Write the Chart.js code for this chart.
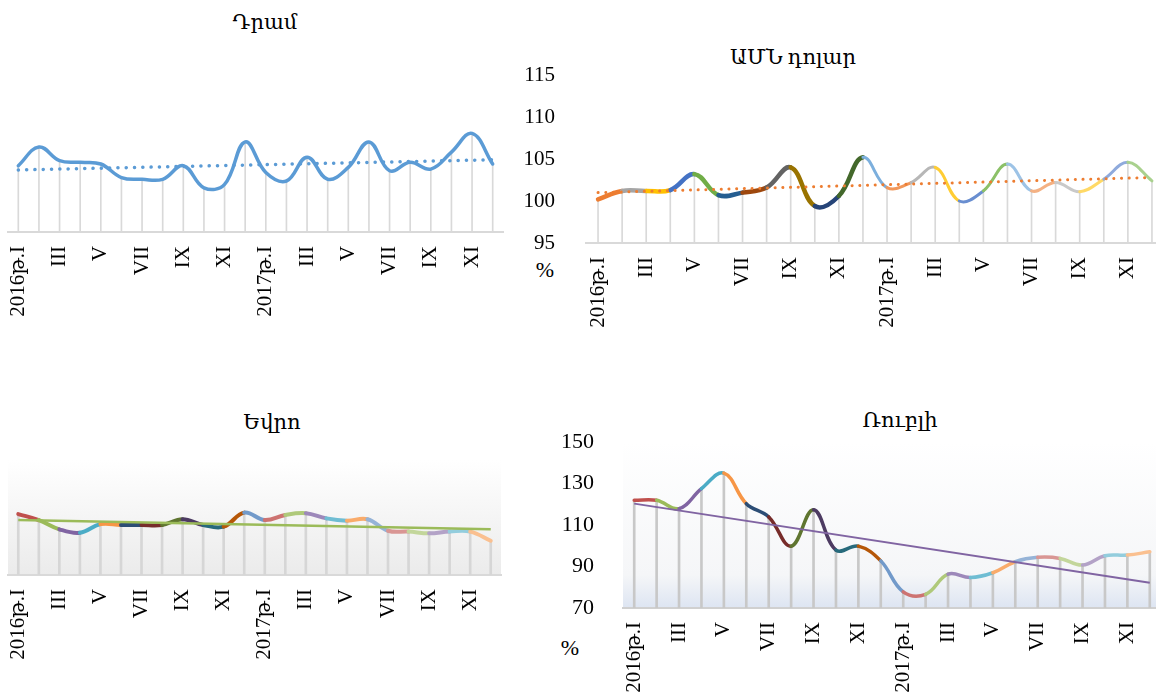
<!DOCTYPE html>
<html>
<head>
<meta charset="utf-8">
<script src="https://cdn.jsdelivr.net/npm/chart.js@4.4.1/dist/chart.umd.min.js"></script>
<style>
    html, body { margin: 0; padding: 0; width: 1156px; height: 700px; overflow: hidden; background: #fff; }
    canvas { position: absolute; }
    .txt { position: absolute; font-family: "Liberation Serif", "DejaVu Serif", serif; font-size: 21px; color: #000;
           transform: translate(-50%, -50%); white-space: nowrap; }
</style>
</head>
<body>
<div class="txt" style="left:265px;top:22px">Դրամ</div>
<div class="txt" style="left:793px;top:57px">ԱՄՆ դոլար</div>
<div class="txt" style="left:272px;top:422px">Եվրո</div>
<div class="txt" style="left:900px;top:420px">Ռուբլի</div>
<div class="txt" style="left:545px;top:270px;font-size:22px">%</div>
<div class="txt" style="left:570px;top:648px;font-size:22px">%</div>

<canvas id="dramChart" width="510" height="292" style="left:0;top:40px"></canvas>
<canvas id="usdChart" width="664" height="288" style="left:500px;top:55px"></canvas>
<canvas id="eurChart" width="510" height="235" style="left:0;top:440px"></canvas>
<canvas id="rubChart" width="621" height="278" style="left:540px;top:420px"></canvas>

<script>
    var months = ['2016թ.I', 'II', 'III', 'IV', 'V', 'VI', 'VII', 'VIII', 'IX', 'X', 'XI', 'XII',
                  '2017թ.I', 'II', 'III', 'IV', 'V', 'VI', 'VII', 'VIII', 'IX', 'X', 'XI', 'XII'];

    // Դրամ (no y labels on the original, values on an index scale)
    var dramValues = [98.9, 100.0, 99.2, 99.1, 99.0, 98.2, 98.1, 98.1, 98.9, 97.6, 97.8, 100.3,
                      98.5, 98.0, 99.4, 98.1, 98.8, 100.3, 98.6, 99.1, 98.7, 99.7, 100.8, 99.0];
    var dramTrend = [98.65, 99.25];

    // ԱՄՆ դոլար
    var usdValues = [100.2, 101.2, 101.2, 101.3, 103.2, 100.7, 101.0, 101.6, 104.0, 99.4, 100.6, 105.2,
                     101.6, 102.2, 104.0, 100.0, 101.2, 104.4, 101.2, 102.2, 101.1, 102.6, 104.6, 102.4];
    var usdTrend = [101.0, 102.8];
    var usdTicks = [95, 100, 105, 110, 115];

    // Եվրո (no y labels on the original)
    var eurValues = [101.2, 99.1, 95.9, 94.7, 97.7, 97.4, 97.4, 97.4, 99.4, 97.4, 96.8, 101.7,
                     99.1, 100.9, 101.5, 99.7, 98.9, 99.4, 95.4, 95.1, 94.5, 95.1, 95.1, 91.9];
    var eurTrend = [99.1, 95.9];

    // Ռուբլի
    var rubValues = [121.9, 121.9, 117.9, 127.5, 135.0, 120.3, 113.9, 99.8, 117.4, 97.9, 99.8, 92.7,
                     77.8, 76.6, 86.3, 84.7, 87.0, 92.3, 94.4, 93.9, 90.7, 95.2, 95.5, 97.1];
    var rubTrend = [120.3, 82.2];
    var rubTicks = [70, 90, 110, 130, 150];

    var usdColors = ['#ed7d31', '#a5a5a5', '#ffc000', '#4472c4', '#70ad47', '#255e91', '#9e480e', '#636363',
                     '#997300', '#264478', '#43682b', '#7cafdd', '#f1975a', '#b7b7b7', '#ffcd33', '#698ed0',
                     '#8cc168', '#9dc3e6', '#f4b183', '#c9c9c9', '#ffd966', '#8faadc', '#a9d18e'];
    var officeColors = ['#c0504d', '#9bbb59', '#8064a2', '#4bacc6', '#f79646', '#2c4d75', '#772c2a', '#5f7530',
                        '#4d3b62', '#276a7c', '#b65708', '#729aca', '#cd7371', '#afc97a', '#9d88ba', '#6fbdd3',
                        '#f9ab6b', '#95b3d7', '#d99694', '#c3d69b', '#b3a2c7', '#93cddd', '#fac090'];

    var serif = '"Liberation Serif", "DejaVu Serif", serif';

    var plotBackground = {
        id: 'plotBackground',
        beforeDraw: function (chart, args, opts) {
            if (!opts.stops) return;
            var a = chart.chartArea;
            var ctx = chart.ctx;
            var g = ctx.createLinearGradient(0, a.top, 0, a.bottom);
            opts.stops.forEach(function (s) { g.addColorStop(s[0], s[1]); });
            ctx.save();
            ctx.fillStyle = g;
            ctx.fillRect(a.left, a.top, a.right - a.left, a.bottom - a.top);
            ctx.restore();
        }
    };

    function makeChart(id, cfg) {
        var n = months.length;
        var trendData = months.map(function (m, i) {
            return i === 0 ? cfg.trend[0] : (i === n - 1 ? cfg.trend[1] : null);
        });
        var yScale = {
            min: cfg.min,
            max: cfg.max,
            display: !!cfg.ticks,
            grid: { display: false },
            border: { display: false },
            afterFit: function (scale) {
                scale.width = cfg.yWidth || 0;
                scale.paddingTop = 0;
                scale.paddingBottom = 0;
            }
        };
        if (cfg.ticks) {
            yScale.afterBuildTicks = function (scale) {
                scale.ticks = cfg.ticks.map(function (v) { return { value: v }; });
            };
            yScale.ticks = { padding: cfg.yPad, color: '#000', font: { family: serif, size: cfg.yFont } };
        }
        return new Chart(document.getElementById(id).getContext('2d'), {
            type: 'line',
            data: {
                labels: months,
                datasets: [{
                    data: trendData,
                    borderColor: cfg.trendColor,
                    borderWidth: cfg.trendWidth,
                    borderDash: cfg.trendDash || [],
                    borderCapStyle: cfg.trendDash ? 'round' : 'butt',
                    spanGaps: true,
                    tension: 0,
                    pointRadius: 0,
                    order: 0
                }, {
                    data: cfg.values,
                    borderColor: cfg.colors[0],
                    borderWidth: cfg.lineWidth,
                    borderCapStyle: 'round',
                    tension: 0.4,
                    pointRadius: 0,
                    order: 1,
                    segment: {
                        borderColor: function (ctx) { return cfg.colors[ctx.p0DataIndex % cfg.colors.length]; },
                        borderWidth: function (ctx) { return cfg.segWidth ? cfg.segWidth(ctx.p0DataIndex) : cfg.lineWidth; }
                    }
                }, {
                    type: 'bar',
                    data: cfg.values,
                    backgroundColor: cfg.dropColor,
                    barThickness: cfg.dropWidth,
                    order: 2
                }]
            },
            plugins: [plotBackground],
            options: {
                responsive: false,
                animation: false,
                layout: { padding: cfg.padding },
                plugins: {
                    legend: { display: false },
                    tooltip: { enabled: false },
                    plotBackground: { stops: cfg.bg }
                },
                scales: {
                    x: {
                        offset: true,
                        grid: { display: true, drawOnChartArea: false, drawTicks: false, color: 'rgba(0,0,0,0)' },
                        border: { display: true, color: cfg.axisColor, width: 2 },
                        afterFit: function (scale) {
                            scale.height = cfg.xHeight;
                            scale.paddingLeft = 0;
                            scale.paddingRight = 0;
                        },
                        ticks: {
                            autoSkip: false,
                            minRotation: 90,
                            maxRotation: 90,
                            padding: 14,
                            color: '#000',
                            font: { family: serif, size: 21 },
                            callback: function (v, i) { return i % 2 === 0 ? months[i] : ''; }
                        }
                    },
                    y: yScale
                }
            }
        });
    }

    makeChart('dramChart', {
        values: dramValues, trend: dramTrend, min: 95, max: 105,
        colors: ['#5b9bd5'], lineWidth: 3.5,
        trendColor: '#5b9bd5', trendWidth: 3.5, trendDash: [0.1, 8.2],
        dropColor: '#d9d9d9', dropWidth: 1, axisColor: '#d9d9d9',
        padding: { left: 8, right: 7, top: 22, bottom: 0 }, xHeight: 100
    });

    makeChart('usdChart', {
        values: usdValues, trend: usdTrend, min: 95, max: 115, ticks: usdTicks,
        yWidth: 86, yPad: 23, yFont: 21,
        colors: usdColors, lineWidth: 3.5,
        segWidth: function (i) { return i < 11 ? 4.5 : 3; },
        trendColor: '#ed7d31', trendWidth: 3, trendDash: [0.1, 7.6],
        dropColor: '#d9d9d9', dropWidth: 1, axisColor: '#d9d9d9',
        padding: { left: 0, right: 0, top: 20, bottom: 0 }, xHeight: 100
    });

    makeChart('eurChart', {
        values: eurValues, trend: eurTrend, min: 80, max: 120,
        colors: officeColors, lineWidth: 4,
        trendColor: '#9bbb59', trendWidth: 2.5,
        dropColor: '#d6d6d6', dropWidth: 2, axisColor: '#d9d9d9',
        bg: [[0, '#ffffff'], [1, '#ebebeb']],
        padding: { left: 8, right: 9, top: 20, bottom: 0 }, xHeight: 100
    });

    makeChart('rubChart', {
        values: rubValues, trend: rubTrend, min: 70, max: 150, ticks: rubTicks,
        yWidth: 83, yPad: 21, yFont: 22,
        colors: officeColors, lineWidth: 3.5,
        trendColor: '#8064a2', trendWidth: 2,
        dropColor: '#c8c8c8', dropWidth: 2, axisColor: '#d0d0d0',
        bg: [[0, '#ffffff'], [0.8, '#f5f6f8'], [1, '#dde5f2']],
        padding: { left: 0, right: 0, top: 22, bottom: 0 }, xHeight: 90
    });
</script>
</body>
</html>
